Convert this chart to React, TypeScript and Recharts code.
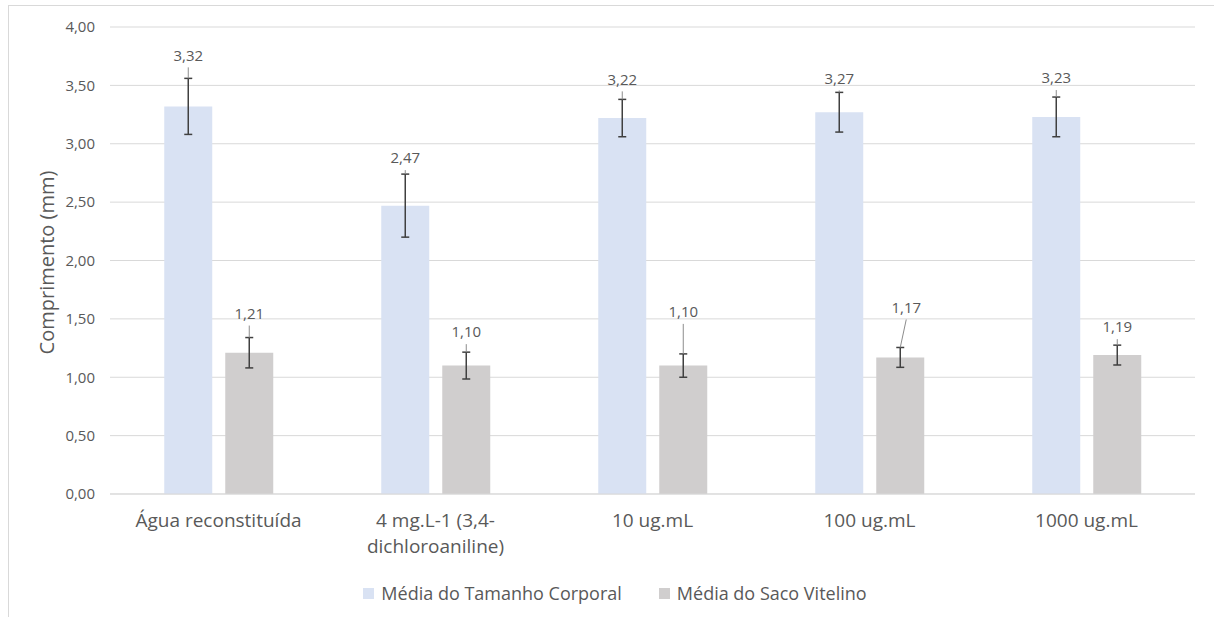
import React from "react";
import { BarChart, Bar, XAxis, YAxis, CartesianGrid, ErrorBar, LabelList, Legend, Label } from "recharts";

const categories = ["Água reconstituída", "4 mg.L-1 (3,4-dichloroaniline)", "10 ug.mL", "100 ug.mL", "1000 ug.mL"];
const tickLines = [["Água reconstituída"], ["4 mg.L-1 (3,4-", "dichloroaniline)"], ["10 ug.mL"], ["100 ug.mL"], ["1000 ug.mL"]];
const bodySize = [3.32, 2.47, 3.22, 3.27, 3.23];
const bodySizeErr = [0.24, 0.27, 0.16, 0.17, 0.17];
const yolkSac = [1.21, 1.1, 1.1, 1.17, 1.19];
const yolkSacErr = [0.13, 0.115, 0.1, 0.085, 0.085];
const yTicks = [0, 0.5, 1, 1.5, 2, 2.5, 3, 3.5, 4];
const seriesNames = ["Média do Tamanho Corporal", "Média do Saco Vitelino"];

// label placement style (pixels above the error bar top, horizontal shift)
const bodyLabelLift = [23, 16, 20, 14, 19];
const yolkLabelLift = [24, 20, 42, 40, 18];
const yolkLabelShift = [0, 0, 0, 6, 0];

const BLUE = "#D9E2F3";
const GRAY = "#D0CECE";
const TEXT = "#595959";
const GRID = "#D9D9D9";
const FONT = "'Open Sans', sans-serif";

const data = categories.map((c, i) => ({
  name: c,
  body: bodySize[i],
  bodyErr: bodySizeErr[i],
  yolk: yolkSac[i],
  yolkErr: yolkSacErr[i],
}));

const fmt = (v: number) => v.toFixed(2).replace(".", ",");

const makeLabel = (errs: number[], lifts: number[], shifts: number[] | null) => (props: any) => {
  const { x, y, width, height, value, index } = props;
  const cx = x + width / 2;
  const perUnit = height / value;
  const errTop = y - errs[index] * perUnit;
  const ly = errTop - lifts[index];
  const lx = cx + (shifts ? shifts[index] : 0);
  const lineStart = ly + 12;
  return (
    <g>
      {lineStart < errTop && (
        <line x1={lx} y1={lineStart} x2={cx} y2={errTop} stroke="#8C8C8C" strokeWidth={1} />
      )}
      <text x={lx} y={ly} dy="0.35em" textAnchor="middle" fill={TEXT} fontSize={15} fontFamily={FONT}>
        {fmt(value)}
      </text>
    </g>
  );
};

const CategoryTick = (props: any) => {
  const { x, y, index } = props;
  const lines = tickLines[index] || [];
  return (
    <g>
      {lines.map((t, k) => (
        <text key={k} x={x} y={y + 25 + k * 26} textAnchor="middle" fill={TEXT} fontSize={19} fontFamily={FONT}>
          {t}
        </text>
      ))}
    </g>
  );
};

const LegendContent = () => (
  <div style={{ display: "flex", justifyContent: "center", alignItems: "center", height: 30, fontFamily: FONT, fontSize: 18, color: TEXT }}>
    {seriesNames.map((n, i) => (
      <div key={n} style={{ display: "flex", alignItems: "center", marginLeft: i ? 37 : 0 }}>
        <div style={{ width: 11, height: 11, background: i ? GRAY : BLUE, marginRight: 7 }} />
        <span>{n}</span>
      </div>
    ))}
  </div>
);

export default function App() {
  return (
    <div style={{ position: "fixed", left: 0, top: 0, width: 1214, height: 617, background: "#fff", overflow: "hidden" }}>
      <div style={{ position: "absolute", left: 8, top: 5, width: 1230, height: 640, border: `1px solid ${GRID}` }} />
      <div style={{ position: "absolute", left: 0, top: 0 }}>
        <BarChart
          width={1214}
          height={617}
          data={data}
          margin={{ top: 27, right: 19, left: 0, bottom: 33 }}
          barCategoryGap="25%"
          barGap={13}
        >
          <CartesianGrid vertical={false} stroke={GRID} strokeWidth={1} />
          <XAxis
            dataKey="name"
            height={60}
            axisLine={{ stroke: GRID }}
            tickLine={false}
            interval={0}
            tick={<CategoryTick />}
          />
          <YAxis
            width={110}
            domain={[0, 4]}
            ticks={yTicks}
            tickFormatter={fmt}
            axisLine={false}
            tickLine={false}
            tickSize={0}
            tickMargin={15}
            tick={{ fill: TEXT, fontSize: 15, fontFamily: FONT }}
          >
            <Label
              value="Comprimento (mm)"
              angle={-90}
              position="center"
              dx={-8}
              dy={2}
              style={{ fill: TEXT, fontSize: 20, fontFamily: FONT }}
            />
          </YAxis>
          <Legend
            verticalAlign="bottom"
            content={<LegendContent />}
            wrapperStyle={{ position: "absolute", top: 578, left: 8, width: 1214, height: 30 }}
          />
          <Bar dataKey="body" name={seriesNames[0]} fill={BLUE} isAnimationActive={false}>
            <ErrorBar dataKey="bodyErr" width={4} stroke="#404040" strokeWidth={1.5} direction="y" />
            <LabelList dataKey="body" content={makeLabel(bodySizeErr, bodyLabelLift, null)} />
          </Bar>
          <Bar dataKey="yolk" name={seriesNames[1]} fill={GRAY} isAnimationActive={false}>
            <ErrorBar dataKey="yolkErr" width={4} stroke="#404040" strokeWidth={1.5} direction="y" />
            <LabelList dataKey="yolk" content={makeLabel(yolkSacErr, yolkLabelLift, yolkLabelShift)} />
          </Bar>
        </BarChart>
      </div>
    </div>
  );
}
